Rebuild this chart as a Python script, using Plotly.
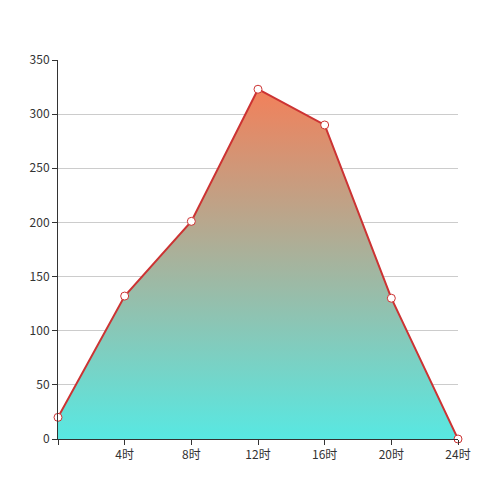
import plotly.graph_objects as go

hours = [0, 4, 8, 12, 16, 20, 24]
tick_labels = ["", "4时", "8时", "12时", "16时", "20时", "24时"]
values = [20, 132, 201, 323, 290, 130, 0]

fig = go.Figure(go.Scatter(
    x=hours, y=values, mode="lines+markers",
    line=dict(color="#cc3333", width=2),
    marker=dict(size=8, color="white", line=dict(color="#cc3333", width=1)),
    fill="tozeroy",
    fillgradient=dict(type="vertical",
                      colorscale=[[0, "rgb(88,232,226)"], [1, "rgb(242,128,90)"]]),
    cliponaxis=False,
))
fig.update_layout(
    width=500, height=500, showlegend=False,
    margin=dict(l=50, r=50, t=52, b=69),
    paper_bgcolor="white", plot_bgcolor="white",
    font=dict(family="Noto Sans CJK SC, sans-serif", size=12, color="#333"),
)
fig.update_xaxes(range=[0, 24], tickvals=hours, ticktext=tick_labels, showgrid=False,
                 showline=True, linecolor="#333", ticks="outside", ticklen=5, tickcolor="#333",
                 zeroline=False)
fig.update_yaxes(range=[0, 350], dtick=50, showgrid=True, gridcolor="#ccc",
                 showline=True, linecolor="#333", ticks="outside", ticklen=5, tickcolor="#333",
                 zeroline=False)
fig.write_html("out.html")
